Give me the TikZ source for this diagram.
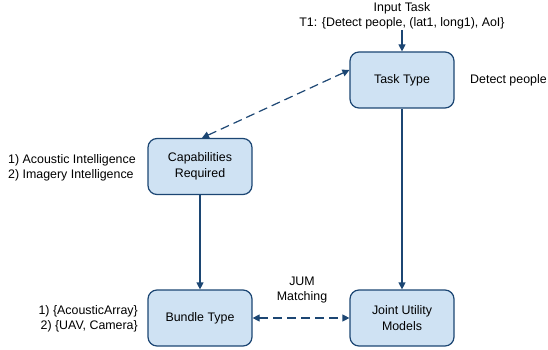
\documentclass[tikz,border=0pt]{standalone}
\usepackage{fontspec}
\setmainfont{Liberation Sans}
\usetikzlibrary{arrows.meta}
\definecolor{boxfill}{HTML}{CFE2F3}
\definecolor{boxline}{HTML}{1C4673}
\begin{document}
\begin{tikzpicture}[x=1pt,y=-1pt,
  every node/.style={font=\fontsize{12.4}{15.5}\selectfont, text=black},
  procbox/.style={draw=boxline, fill=boxfill, line width=1.2pt, rounded corners=9pt,
    minimum width=104pt, minimum height=56pt, align=center, inner sep=0pt},
  flow/.style={draw=boxline, line width=1.2pt, -{Triangle[length=7pt,width=7pt]}},
  link/.style={draw=boxline, line width=1.2pt, dash pattern=on 9pt off 5pt,
    {Triangle[length=7pt,width=7pt]}-{Triangle[length=7pt,width=7pt]}},
  note/.style={align=left, inner sep=0pt}]
\useasboundingbox (0,0) rectangle (548,350);

% process boxes
\node[procbox] (task) at (402,80) {Task Type};
\node[procbox] (cap) at (200,166.5) {Capabilities\\Required};
\node[procbox] (bundle) at (200,318) {Bundle Type};
\node[procbox] (jum) at (402,318) {Joint Utility\\Models};

% input task label
\node[align=center, inner sep=0pt] (input) at (402,16) {Input Task\\T1: \{Detect people, (lat1, long1), AoI\}};
\coordinate (inend) at (402,30);

% side notes
\node[note, anchor=west] (detect) at (470,80) {Detect people};
\node[note, anchor=west] (capnote) at (8,168) {1) Acoustic Intelligence\\2) Imagery Intelligence};
\node[note, anchor=east, align=right] (bundlenote) at (138,319) {1) \{AcousticArray\}\\2) \{UAV, Camera\}};
\node[align=center, inner sep=0pt] (jumlabel) at (302,290) {JUM\\Matching};

% connectors
\draw[flow] (inend) -- (task.north);
\draw[flow] (task.south) -- (jum.north);
\draw[flow] (cap.south) -- (bundle.north);
\draw[link] (cap.north) ++(2,0) coordinate (capend) (capend) -- (task.west |- 0,70);
\draw[link] (bundle.east) -- (jum.west);
\end{tikzpicture}
\end{document}
